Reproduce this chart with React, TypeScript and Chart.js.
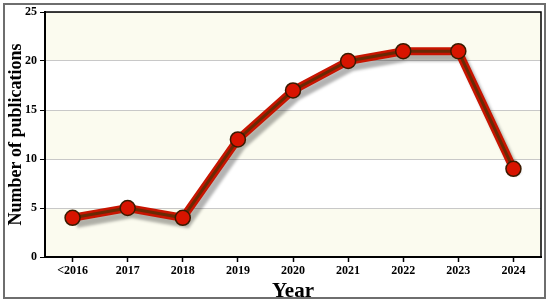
import React, { useEffect, useRef } from "react";
import { Chart, registerables } from "chart.js";

Chart.register(...registerables);

const categories = ["<2016", "2017", "2018", "2019", "2020", "2021", "2022", "2023", "2024"];
const publications = [4, 5, 4, 12, 17, 20, 21, 21, 9];
const yMin = 0;
const yMax = 25;
const yStep = 5;

const FONT = "'Liberation Serif', 'Times New Roman', serif";

const framePlugin = {
  id: "frameAndBands",
  beforeDraw(chart: any) {
    const { ctx, chartArea } = chart;
    const ys = chart.scales.y;
    ctx.save();
    ctx.fillStyle = "#ffffff";
    ctx.fillRect(0, 0, chart.width, chart.height);
    const ticks = ys.ticks;
    for (let i = 0; i < ticks.length - 1; i++) {
      const yA = ys.getPixelForValue(ticks[i].value);
      const yB = ys.getPixelForValue(ticks[i + 1].value);
      ctx.fillStyle = i % 2 === 0 ? "#fbfbef" : "#ffffff";
      ctx.fillRect(chartArea.left, yB, chartArea.right - chartArea.left, yA - yB);
    }
    ctx.strokeStyle = "#6e6e6e";
    ctx.lineWidth = 2;
    ctx.strokeRect(4, 4, 541, 294);
    ctx.restore();
  },
  afterDraw(chart: any) {
    const { ctx, chartArea } = chart;
    ctx.save();
    ctx.strokeStyle = "#000000";
    ctx.lineWidth = 1.5;
    ctx.beginPath();
    ctx.moveTo(chartArea.left, chartArea.top);
    ctx.lineTo(chartArea.right, chartArea.top);
    ctx.lineTo(chartArea.right, chartArea.bottom);
    ctx.stroke();
    ctx.restore();
  },
  beforeDatasetDraw(chart: any, args: any) {
    if (args.index === 0) {
      const ctx = chart.ctx;
      ctx.save();
      ctx.shadowColor = "rgba(0,0,0,0.3)";
      ctx.shadowOffsetX = 4;
      ctx.shadowOffsetY = 6;
      ctx.shadowBlur = 3;
    }
  },
  afterDatasetDraw(chart: any, args: any) {
    if (args.index === 0) {
      chart.ctx.restore();
    }
  },
};

export default function App() {
  const ref = useRef<HTMLCanvasElement>(null);
  useEffect(() => {
    document.body.style.margin = "0";
    const chart = new Chart(ref.current!, {
      type: "line",
      data: {
        labels: categories,
        datasets: [
          {
            data: publications,
            borderColor: "#c81400",
            borderWidth: 8,
            pointRadius: 0,
            pointHoverRadius: 0,
            tension: 0,
            order: 2,
          },
          {
            data: publications,
            borderColor: "#6a2a04",
            borderWidth: 3,
            pointRadius: 7.5,
            pointBorderWidth: 1.5,
            pointBackgroundColor: "#d81400",
            pointBorderColor: "#3a1a00",
            tension: 0,
            order: 1,
          },
        ],
      },
      options: {
        animation: false,
        responsive: false,
        devicePixelRatio: 1,
        layout: { padding: { left: 0, right: 6, top: 12, bottom: 0 } },
        plugins: { legend: { display: false }, tooltip: { enabled: false } },
        scales: {
          x: {
            offset: true,
            grid: {
              display: true,
              drawOnChartArea: false,
              drawTicks: true,
              tickLength: 5,
              tickWidth: 1.5,
              tickColor: "#000",
              offset: false,
            },
            border: { display: true, color: "#000", width: 2 },
            ticks: {
              color: "#000",
              font: { family: FONT, size: 12, weight: "bold" },
              padding: 2,
              maxRotation: 0,
            },
            title: {
              display: true,
              text: "Year",
              color: "#000",
              font: { family: FONT, size: 21, weight: "bold" },
              padding: { top: 0, bottom: 0 },
            },
            afterFit(scale: any) {
              scale.height = 47;
            },
          },
          y: {
            min: yMin,
            max: yMax,
            grid: {
              color: "#c8c8c8",
              lineWidth: 1,
              drawTicks: true,
              tickLength: 5,
              tickColor: "#000",
            },
            border: { display: true, color: "#000", width: 2 },
            ticks: {
              stepSize: yStep,
              color: "#000",
              font: { family: FONT, size: 12, weight: "bold" },
              padding: 3,
            },
            title: {
              display: true,
              text: "Number of publications",
              color: "#000",
              font: { family: FONT, size: 18, weight: "bold" },
              padding: { top: 6, bottom: 0 },
            },
            afterFit(scale: any) {
              scale.width = 45;
            },
          },
        },
      },
      plugins: [framePlugin],
    });
    return () => chart.destroy();
  }, []);
  return (
    <div style={{ width: 550, height: 304 }}>
      <canvas ref={ref} width={550} height={304} />
    </div>
  );
}
